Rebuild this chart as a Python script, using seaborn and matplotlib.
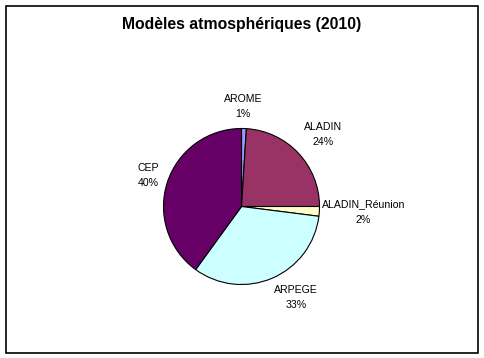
import matplotlib
matplotlib.use("Agg")
import matplotlib.pyplot as plt
import seaborn as sns
from matplotlib.patches import Rectangle

sns.set_theme(style="white")
plt.rcParams['font.family'] = ['Liberation Sans', 'DejaVu Sans']

modeles = ['AROME', 'ALADIN', 'ALADIN_Réunion', 'ARPEGE', 'CEP']
parts = [1, 24, 2, 33, 40]
couleurs = ['#9999FF', '#993366', '#FFFFCC', '#CCFFFF', '#660066']
# position des etiquettes (unites du rayon)
pos_etiquettes = [(0.02, 1.28), (1.045, 0.92), (1.56, -0.07), (0.70, -1.17), (-1.19, 0.40)]

W, H = 484, 358
R = 78.0
CX, CY = 241.5, 206.5

fig = plt.figure(figsize=(W / 100, H / 100), dpi=100)
ax = fig.add_axes([0, 0, 1, 1])
ax.pie(parts, colors=couleurs, startangle=90, counterclock=False,
       wedgeprops=dict(edgecolor='black', linewidth=0.8))
ax.set_aspect('auto')
ax.set_xlim(-CX / R, (W - CX) / R)
ax.set_ylim(-(H - CY) / R, CY / R)
ax.axis('off')

for nom, p, (x, y) in zip(modeles, parts, pos_etiquettes):
    ax.text(x, y, f"{nom}\n{p}%", ha='center', va='center',
            fontsize=7.6, linespacing=1.65, color='black')

fig.text(0.5, 1 - 25 / H, 'Modèles atmosphériques (2010)', ha='center', va='center',
         fontsize=11.3, fontweight='bold', color='black')

fig.patches.append(Rectangle((5.5 / W, 1 - 352.5 / H), 472.5 / W, 347 / H,
                             transform=fig.transFigure, fill=False,
                             edgecolor='black', linewidth=1.2))

fig.savefig('out.png', dpi=100, facecolor='white')
